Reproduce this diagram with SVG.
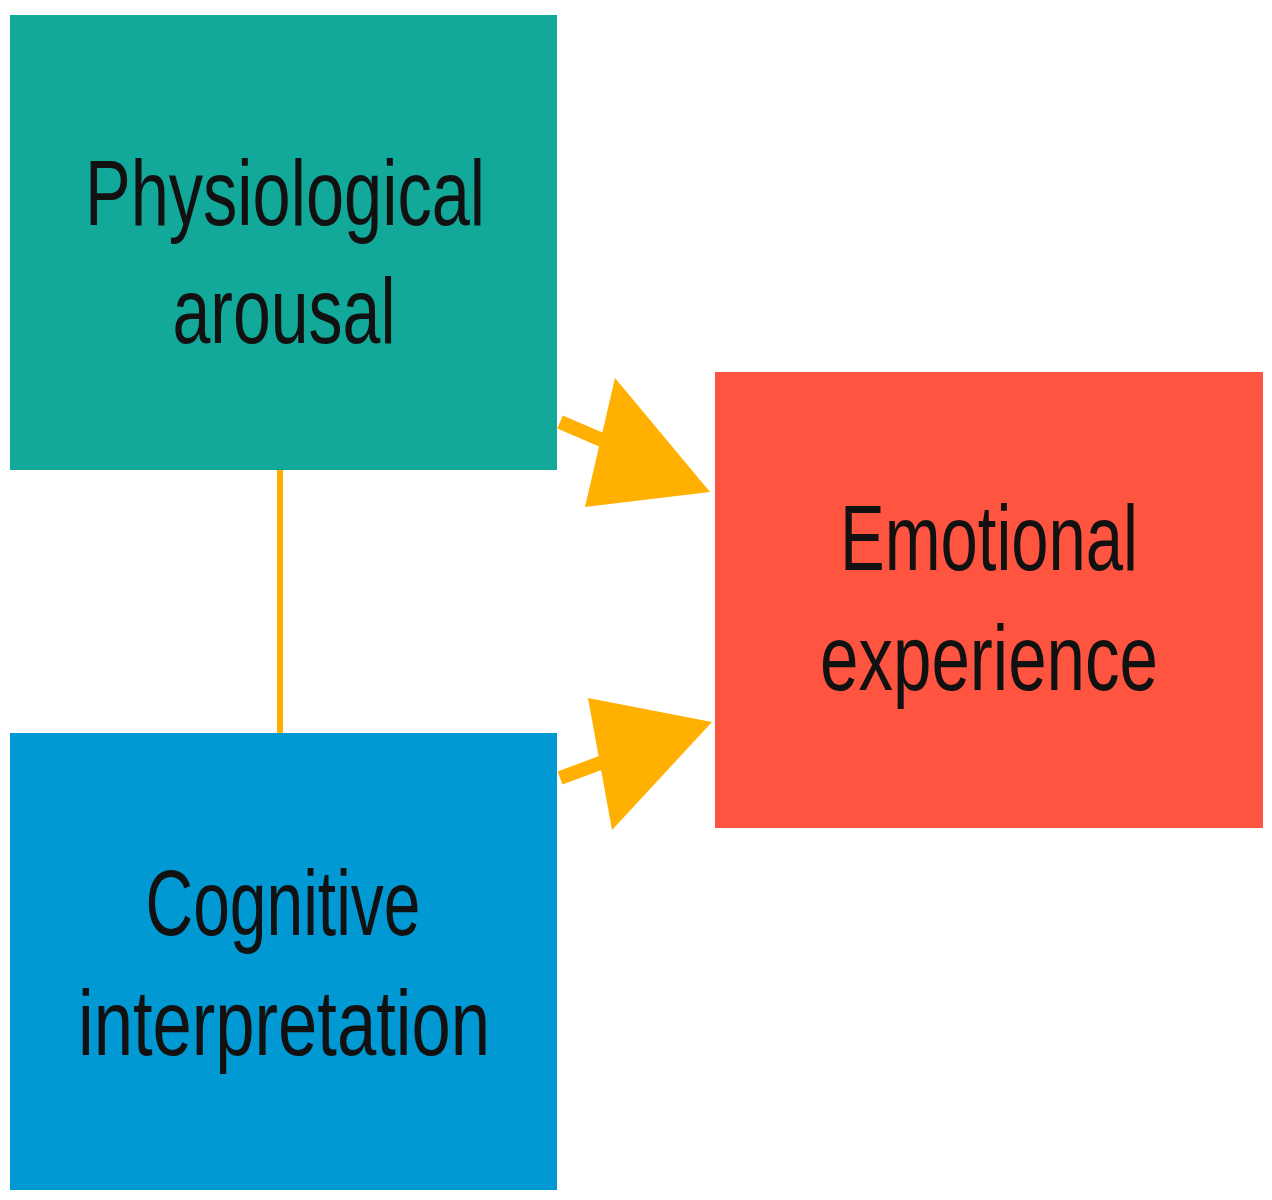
<svg xmlns="http://www.w3.org/2000/svg" width="1272" height="1200" viewBox="0 0 1272 1200">
<style>
text{font-family:"Liberation Sans",Arial,sans-serif;font-size:92px;fill:#111;text-anchor:middle}
.c{fill:#ffb000;stroke:none}
</style>
<rect width="1272" height="1200" fill="#fff"/>
<g id="connectors">
<line x1="280" y1="470" x2="280" y2="733" stroke="#ffb000" stroke-width="6"/>
<line x1="560" y1="422" x2="630" y2="452" stroke="#ffb000" stroke-width="14"/>
<polygon class="c" points="615,378 710,492 585,507"/>
<line x1="560" y1="778" x2="630" y2="752" stroke="#ffb000" stroke-width="14"/>
<polygon class="c" points="588,698 712,722 612,830"/>
</g>
<g id="physio">
<rect x="10" y="15" width="547" height="455" fill="#12a89a"/>
<text x="285" y="225" textLength="400" lengthAdjust="spacingAndGlyphs">Physiological</text>
<text x="284" y="343" textLength="223" lengthAdjust="spacingAndGlyphs">arousal</text>
</g>
<g id="cognitive">
<rect x="10" y="733" width="547" height="457" fill="#0099d4"/>
<text x="283" y="935" textLength="275" lengthAdjust="spacingAndGlyphs">Cognitive</text>
<text x="284" y="1055" textLength="412" lengthAdjust="spacingAndGlyphs">interpretation</text>
</g>
<g id="emotional">
<rect x="715" y="372" width="548" height="456" fill="#ff5440"/>
<text x="989" y="570" textLength="298" lengthAdjust="spacingAndGlyphs">Emotional</text>
<text x="989" y="690" textLength="338" lengthAdjust="spacingAndGlyphs">experience</text>
</g>
</svg>
